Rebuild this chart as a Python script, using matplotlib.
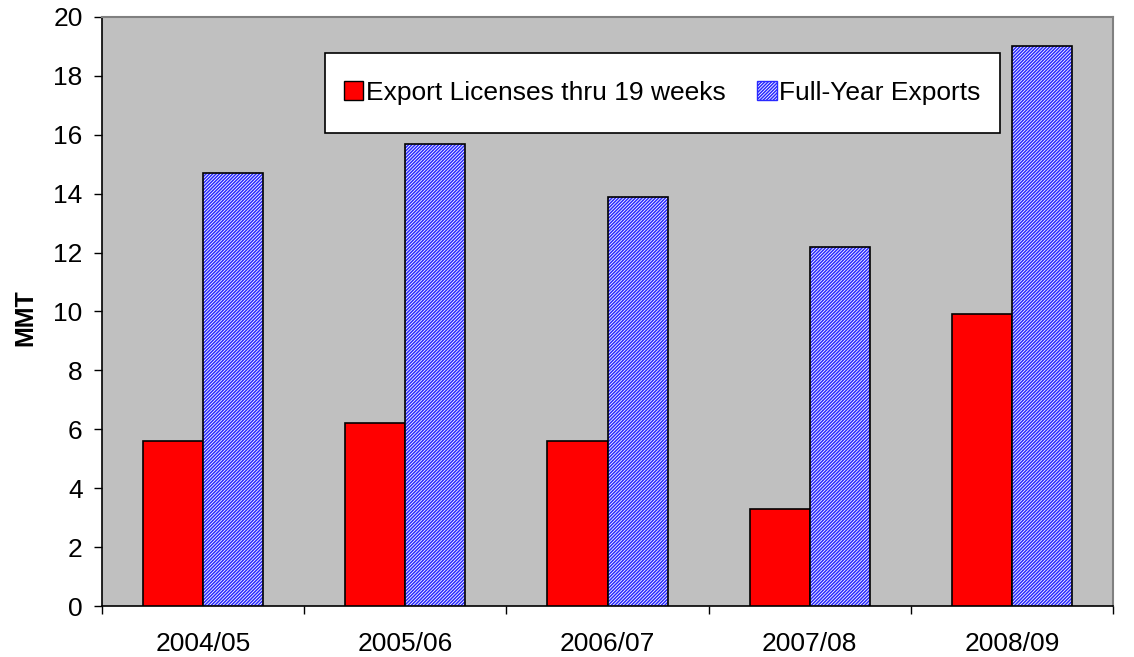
import matplotlib
matplotlib.use('Agg')
import matplotlib.pyplot as plt
from matplotlib.patches import Patch, Rectangle
import numpy as np

plt.rcParams['font.family'] = ['Liberation Sans', 'DejaVu Sans']
plt.rcParams['font.size'] = 19
plt.rcParams['hatch.linewidth'] = 1.1

# Datos
temporadas = ['2004/05', '2005/06', '2006/07', '2007/08', '2008/09']
licencias_19sem = [5.6, 6.2, 5.6, 3.3, 9.9]
exportaciones_anual = [14.7, 15.7, 13.9, 12.2, 19.0]

TRAMA = '//////////'
AZUL = '#2929FF'

fig = plt.figure(figsize=(11.34, 6.57), dpi=100)
ax = fig.add_axes([0.09, 0.0776, 0.8915, 0.8966])
ax.set_facecolor('#C0C0C0')

x = np.arange(len(temporadas))
ancho = 0.297

ax.bar(x - ancho / 2, licencias_19sem, ancho, color='#FF0000',
       edgecolor='black', linewidth=1.2, zorder=3)
# barras rayadas: trama azul y luego el borde negro encima
ax.bar(x + ancho / 2, exportaciones_anual, ancho, color='white',
       edgecolor=AZUL, hatch=TRAMA, linewidth=0, zorder=3)
ax.bar(x + ancho / 2, exportaciones_anual, ancho, fill=False,
       edgecolor='black', linewidth=1.2, zorder=4)

ax.set_xlim(-0.5, len(temporadas) - 0.5)
ax.set_ylim(0, 20)
ax.set_yticks(np.arange(0, 21, 2))
ax.set_xticks(x)
ax.set_xticklabels(temporadas)
ax.set_xticks(np.arange(-0.5, len(temporadas), 1), minor=True)
ax.tick_params(axis='x', which='major', length=0, pad=19)
ax.tick_params(axis='x', which='minor', length=6, width=1, direction='out')
ax.tick_params(axis='y', length=6, width=1, direction='out', pad=8)

ax.set_ylabel('MMT', fontweight='bold', fontsize=18)
ax.yaxis.set_label_coords(-0.064, 0.49)

for lado in ['top', 'right']:
    ax.spines[lado].set_color('#808080')
    ax.spines[lado].set_linewidth(1.5)
for lado in ['left', 'bottom']:
    ax.spines[lado].set_color('black')
    ax.spines[lado].set_linewidth(1.2)

# marco de la leyenda
ax.add_patch(Rectangle((0.2206, 0.803), 0.668, 0.136, transform=ax.transAxes,
                       facecolor='white', edgecolor='black', linewidth=1.2, zorder=5))

manejadores = [
    Patch(facecolor='#FF0000', edgecolor='black', label='Export Licenses thru 19 weeks'),
    Patch(facecolor='white', edgecolor=AZUL, hatch=TRAMA, label='Full-Year Exports'),
]
leg = ax.legend(handles=manejadores, loc='center', bbox_to_anchor=(0.554, 0.871),
                ncol=2, frameon=False, borderpad=0.2, handlelength=0.74,
                handleheight=0.74, handletextpad=0.1, columnspacing=1.2)
leg.set_zorder(6)

plt.savefig('out.png', dpi=100, facecolor='white')
plt.close()
